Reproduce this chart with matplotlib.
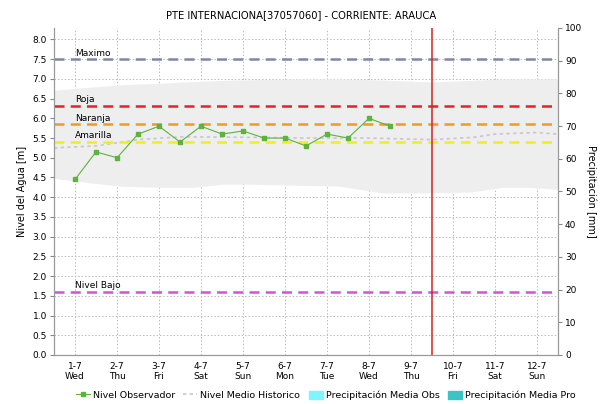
import numpy as np
import matplotlib.pyplot as plt
from matplotlib.lines import Line2D
from matplotlib.patches import Patch

plt.rcParams['font.family'] = ['DejaVu Sans']

title = "PTE INTERNACIONA[37057060] - CORRIENTE: ARAUCA"
day_labels = ["1-7\nWed", "2-7\nThu", "3-7\nFri", "4-7\nSat", "5-7\nSun", "6-7\nMon",
              "7-7\nTue", "8-7\nWed", "9-7\nThu", "10-7\nFri", "11-7\nSat", "12-7\nSun"]
day_pos = list(range(12))

# observed level, every half day
obs_x = [0, 0.5, 1, 1.5, 2, 2.5, 3, 3.5, 4, 4.5, 5, 5.5, 6, 6.5, 7, 7.5]
obs_y = [4.45, 5.15, 5.0, 5.6, 5.8, 5.4, 5.8, 5.6, 5.68, 5.5, 5.5, 5.3, 5.6, 5.5, 6.0, 5.8]

# historical band (min/max) and mean
band_x = [-0.5, 0.0, 1.1, 2.0, 2.8, 3.5, 4.2, 5.4, 6.3, 7.3, 8.5, 9.4, 10.2, 10.8, 11.5]
band_hi = [6.71, 6.76, 6.85, 6.89, 6.93, 6.96, 6.98, 7.0, 7.0, 6.97, 6.92, 6.96, 7.0, 7.0, 7.0]
band_lo = [4.48, 4.41, 4.28, 4.25, 4.25, 4.33, 4.33, 4.3, 4.28, 4.11, 4.11, 4.13, 4.25, 4.25, 4.2]

mean_x = [-0.5, 0.5, 1.0, 1.5, 2.5, 4.0, 5.5, 7.0, 8.5, 9.5, 10.0, 11.0, 11.5]
mean_y = [5.25, 5.3, 5.38, 5.46, 5.53, 5.52, 5.5, 5.5, 5.46, 5.52, 5.6, 5.64, 5.6]

# reference levels
ref_names = ["Maximo", "Roja", "Naranja", "Amarilla", "Nivel Bajo"]
ref_vals = [7.5, 6.32, 5.85, 5.4, 1.6]
ref_cols = ["#7F86A6", "#E8202A", "#F39A24", "#EEEE22", "#D452D4"]

now_day = 8.5

fig = plt.figure(figsize=(6.03, 4.04), dpi=100)
ax = fig.add_axes([0.0896, 0.1213, 0.8358, 0.8094])
ax2 = ax.twinx()

ax.fill_between(band_x, band_lo, band_hi, color="#EEEEEE", lw=0, zorder=1)
ax.plot(mean_x, mean_y, color="#C8C8C8", lw=1.2, ls=(0, (2, 2)), zorder=2)

for name, v, c in zip(ref_names, ref_vals, ref_cols):
    ax.axhline(v, color=c, lw=1.8, ls=(0, (4, 2.5)), zorder=3)
    ax.text(0, v + 0.04, name, fontsize=6.5, va="bottom", ha="left", zorder=5)

ax.plot(obs_x, obs_y, color="#5CB43A", lw=0.8, marker="s", ms=2.5, zorder=4)
ax.axvline(now_day, color="#D82020", lw=1.1, zorder=4)

ax.set_xlim(-0.5, 11.5)
ax.set_ylim(0, 8.29)
ax.set_yticks(np.arange(0, 8.01, 0.5))
ax.set_yticklabels(["%.1f" % t for t in np.arange(0, 8.01, 0.5)])
ax.set_xticks(day_pos)
ax.set_xticklabels(day_labels)
ax.grid(True, color="#BBBBBB", ls=(0, (1.5, 2)), lw=0.7)
ax.set_axisbelow(True)
ax.tick_params(labelsize=6.5, length=3, color="#888888", pad=2)
ax.tick_params(axis="x", length=0, pad=5)
ax.set_ylabel("Nivel del Agua [m]", fontsize=7)

ax2.set_ylim(0, 100)
ax2.set_yticks(range(0, 101, 10))
ax2.tick_params(labelsize=6.5, length=3, color="#888888", pad=2)
ax2.set_ylabel("Precipitación [mm]", fontsize=7, rotation=270, labelpad=10)

for a in (ax, ax2):
    a.spines["top"].set_visible(False)
    a.spines["left"].set_color("#999999")
    a.spines["right"].set_color("#999999")
    a.spines["bottom"].set_color("#999999")
    a.spines["bottom"].set_linestyle((0, (1, 1)))

fig.suptitle(title, fontsize=7.2, x=0.5, y=0.975)

handles = [
    Line2D([], [], color="#5CB43A", lw=0.8, marker="s", ms=2.5),
    Line2D([], [], color="#C8C8C8", lw=1.2, ls=(0, (2, 2))),
    Patch(color="#7FF5FF"),
    Patch(color="#3CC4C4"),
]
labels = ["Nivel Observador", "Nivel Medio Historico", "Precipitación Media Obs",
          "Precipitación Media Pro"]
fig.legend(handles, labels, loc="center", bbox_to_anchor=(0.54, 0.022), ncol=4,
           frameon=False, fontsize=6.8, handlelength=1.5, handletextpad=0.3,
           columnspacing=0.9, handleheight=0.9)

fig.savefig("out.png", dpi=100)
